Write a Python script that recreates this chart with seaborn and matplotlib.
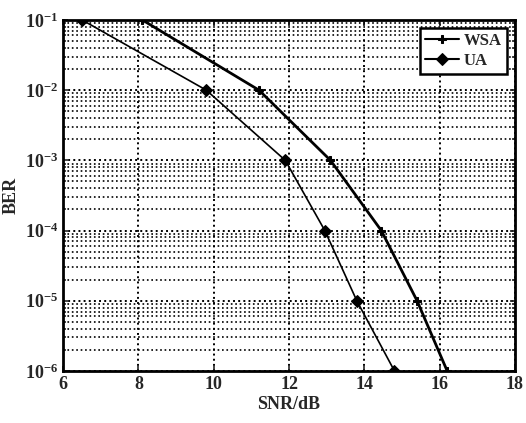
import matplotlib
matplotlib.use("Agg")
import matplotlib.pyplot as plt
import matplotlib.ticker as mticker
import numpy as np
import pandas as pd
import seaborn as sns

# Data
wsa_snr = [8.1, 11.2, 13.1, 14.45, 15.4, 16.2]
wsa_ber = [1e-1, 1e-2, 1e-3, 1e-4, 1e-5, 1e-6]
ua_snr = [6.5, 9.8, 11.9, 12.95, 13.8, 14.8]
ua_ber = [1e-1, 1e-2, 1e-3, 1e-4, 1e-5, 1e-6]
series_names = ["WSA", "UA"]
x_ticks = [6, 8, 10, 12, 14, 16, 18]

df = pd.DataFrame({
    "SNR": wsa_snr + ua_snr,
    "BER": wsa_ber + ua_ber,
    "alg": [series_names[0]] * len(wsa_snr) + [series_names[1]] * len(ua_snr),
})

sns.set_style("ticks")
plt.rcParams["font.family"] = ["Liberation Serif", "DejaVu Serif"]
plt.rcParams["font.weight"] = "bold"
plt.rcParams["mathtext.fontset"] = "custom"
plt.rcParams["mathtext.rm"] = "Liberation Serif:bold"
plt.rcParams["mathtext.bf"] = "Liberation Serif:bold"
plt.rcParams["mathtext.it"] = "Liberation Serif:bold"

fig = plt.figure(figsize=(5.26, 4.23), dpi=100)
ax = fig.add_axes([0.12, 0.123, 0.859, 0.830])

sns.lineplot(data=df, x="SNR", y="BER", hue="alg", style="alg",
             palette={"WSA": "black", "UA": "black"},
             markers={"WSA": "P", "UA": "D"}, dashes=False,
             sort=False, ax=ax, legend=True)

for ln in ax.lines:
    ln.set_markersize(6)
    ln.set_markeredgecolor("black")
    ln.set_markerfacecolor("black")
ax.lines[0].set_linewidth(2.0)
ax.lines[1].set_linewidth(1.2)

ax.set_yscale("log")
ax.set_xlim(6, 18)
ax.set_ylim(1e-6, 1e-1)
ax.set_xticks(x_ticks)
ax.set_xticklabels([str(t) for t in x_ticks], fontsize=13, fontweight="bold")
ax.yaxis.set_major_locator(mticker.LogLocator(base=10, numticks=10))
ax.yaxis.set_minor_locator(mticker.LogLocator(base=10, subs=np.arange(2, 10), numticks=20))
ax.yaxis.set_major_formatter(mticker.FuncFormatter(lambda v, p: r"$\mathbf{10^{%d}}$" % int(round(np.log10(v)))))
ax.yaxis.set_minor_formatter(mticker.NullFormatter())
for t in ax.get_yticklabels():
    t.set_fontsize(13)

ax.grid(True, which="major", axis="both", color="black", linestyle=":", linewidth=1.4)
ax.grid(True, which="minor", axis="y", color="black", linestyle=":", linewidth=1.2)

ax.tick_params(direction="in", which="both", top=True, right=True, width=1.2)
for s in ax.spines.values():
    s.set_linewidth(2.0)
    s.set_color("black")

ax.set_xlabel("SNR/dB", fontsize=13, fontweight="bold", labelpad=2)
ax.set_ylabel("BER", fontsize=13, fontweight="bold")

leg = ax.legend(loc="upper right", fontsize=12, frameon=True, fancybox=False,
                edgecolor="black", handlelength=2.0, borderpad=0.3,
                labelspacing=0.2, handletextpad=0.3)
leg.get_frame().set_linewidth(1.8)
leg.get_frame().set_alpha(1)
for t in leg.get_texts():
    t.set_fontweight("bold")
for h in leg.get_lines():
    h.set_markeredgecolor("black")
    h.set_markerfacecolor("black")

fig.savefig("out.png", dpi=100)
